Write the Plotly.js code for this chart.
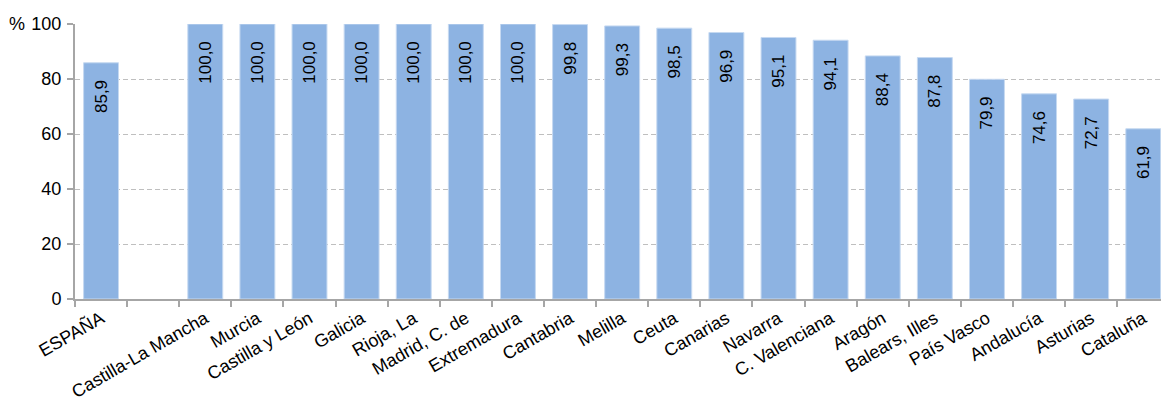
<!DOCTYPE html>
<html>
<head>
<meta charset="utf-8">
<script src="https://cdn.plot.ly/plotly-3.0.1.min.js"></script>
<style>html,body{margin:0;padding:0;background:#fff;}#chart{width:1161px;height:403px;}</style>
</head>
<body>
<div id="chart"></div>
<script>
const categories = ["ESPAÑA", " ", "Castilla-La Mancha", "Murcia", "Castilla y León", "Galicia", "Rioja, La", "Madrid, C. de", "Extremadura", "Cantabria", "Melilla", "Ceuta", "Canarias", "Navarra", "C. Valenciana", "Aragón", "Balears, Illes", "País Vasco", "Andalucía", "Asturias", "Cataluña"];
const values = [85.9, null, 100.0, 100.0, 100.0, 100.0, 100.0, 100.0, 100.0, 99.8, 99.3, 98.5, 96.9, 95.1, 94.1, 88.4, 87.8, 79.9, 74.6, 72.7, 61.9];
const yTicks = [0, 20, 40, 60, 80, 100];
const yUnit = "%";

const labels = values.map(v => v === null ? "" : v.toFixed(1).replace(".", ",") + "\u00a0\u00a0\u00a0");
const family = "Liberation Sans, Arial, sans-serif";
const tickFont = {family: family, size: 18, color: "#000"};
const labelFont = {family: family, size: 17, color: "#000"};

const trace = {
  type: "bar",
  x: categories,
  y: values,
  text: labels,
  textposition: "inside",
  insidetextanchor: "end",
  textangle: -90,
  textfont: labelFont,
  constraintext: "none",
  cliponaxis: true,
  marker: {color: "#8DB3E2", line: {color: "#C6D9F1", width: 1}},
  hoverinfo: "skip"
};

const layout = {
  width: 1161, height: 403,
  margin: {l: 75, r: 0, t: 24, b: 104},
  paper_bgcolor: "#fff", plot_bgcolor: "#fff",
  bargap: 0.33,
  showlegend: false,
  font: tickFont,
  xaxis: {
    type: "category",
    range: [-0.5, 20.34],
    tickson: "boundaries",
    ticks: "outside", ticklen: 6, tickcolor: "#A6A6A6", tickwidth: 2,
    showline: true, linecolor: "#A6A6A6", linewidth: 2,
    tickangle: -30,
    tickfont: tickFont,
    showgrid: false,
    fixedrange: true
  },
  yaxis: {
    range: [0, 100],
    tickvals: yTicks,
    ticks: "outside", ticklen: 6, tickcolor: "#A6A6A6", tickwidth: 2,
    showline: true, linecolor: "#A6A6A6", linewidth: 2,
    showgrid: true, gridcolor: "#BFBFBF", griddash: "5px,3px", gridwidth: 1,
    zeroline: false,
    tickfont: tickFont,
    ticklabelstandoff: 2,
    fixedrange: true
  },
  annotations: [{
    text: yUnit, xref: "paper", yref: "y", x: 0, y: 100,
    xanchor: "right", yanchor: "middle", xshift: -48,
    showarrow: false, font: tickFont
  }]
};

Plotly.newPlot("chart", [trace], layout, {displayModeBar: false, staticPlot: true});
</script>
</body>
</html>
